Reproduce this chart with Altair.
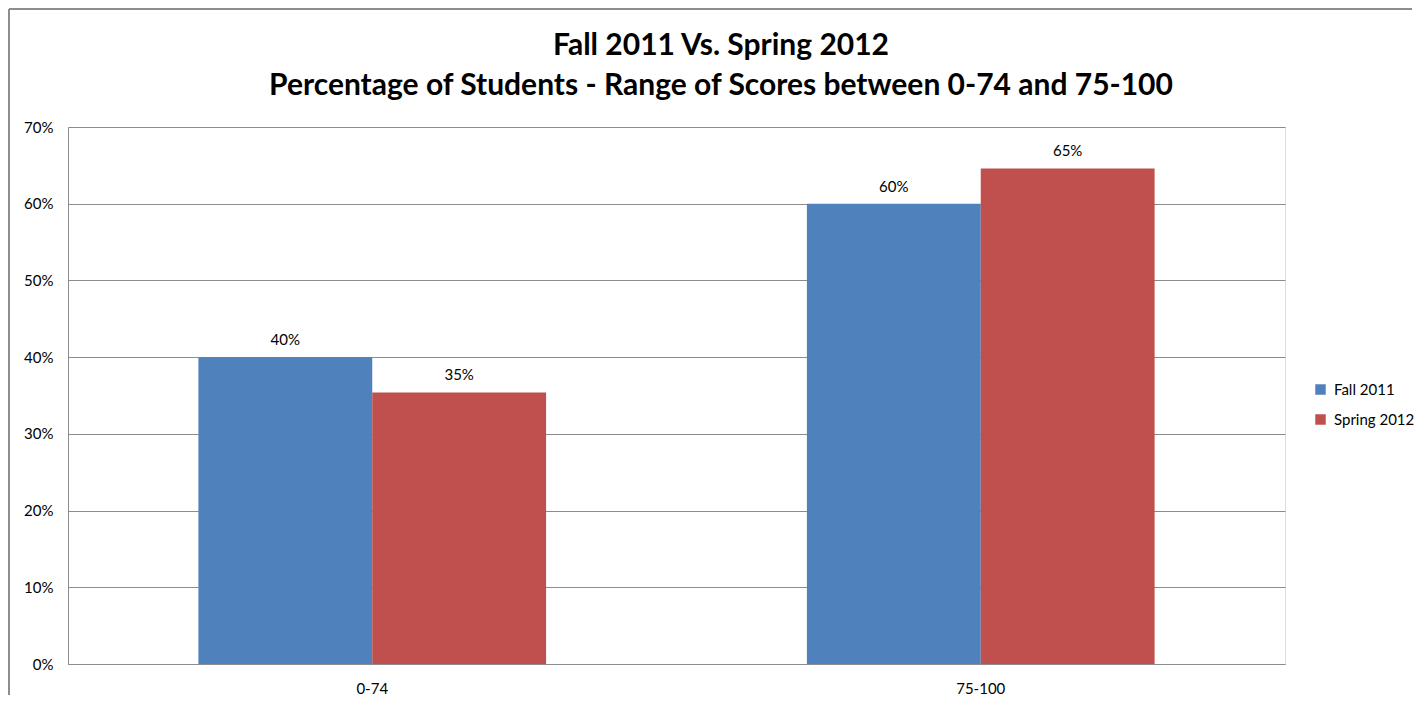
import altair as alt
import pandas as pd

categories = ["0-74", "75-100"]
series = ["Fall 2011", "Spring 2012"]
fall_2011 = [0.40, 0.60]
spring_2012 = [0.354, 0.646]
colors = ["#4F81BD", "#C0504D"]
title_lines = ["Fall 2011 Vs. Spring 2012",
               "Percentage of Students - Range of Scores between 0-74 and 75-100"]

rows = []
for i, c in enumerate(categories):
    rows.append({"range": c, "term": series[0], "value": fall_2011[i]})
    rows.append({"range": c, "term": series[1], "value": spring_2012[i]})
df = pd.DataFrame(rows)

FONT = "Lato"

x = alt.X("range:N", sort=categories, title=None,
          scale=alt.Scale(paddingInner=0.4286, paddingOuter=0.2143),
          axis=alt.Axis(labelAngle=0, labelFontSize=15, labelColor="#000000",
                        labelFont=FONT, ticks=False, labelPadding=17,
                        domainColor="#8c8c8c", grid=False))
y = alt.Y("value:Q", title=None,
          scale=alt.Scale(domain=[0, 0.7], nice=False),
          axis=alt.Axis(format=".0%", values=[0, 0.1, 0.2, 0.3, 0.4, 0.5, 0.6, 0.7],
                        labelFontSize=15, labelColor="#000000", labelFont=FONT,
                        ticks=False, labelPadding=15, domainColor="#8c8c8c",
                        gridColor="#8c8c8c", gridWidth=1))
xo = alt.XOffset("term:N", sort=series)

bars = alt.Chart(df).mark_bar(stroke=None).encode(
    x=x, y=y, xOffset=xo,
    color=alt.Color("term:N", sort=series,
                    scale=alt.Scale(domain=series, range=colors),
                    legend=alt.Legend(title=None, orient="none", legendX=1245, legendY=255,
                                      symbolType="square", symbolSize=110,
                                      symbolStrokeWidth=0,
                                      labelFontSize=15, labelFont=FONT,
                                      labelColor="#000000", rowPadding=14,
                                      labelOffset=6)),
)

labels = alt.Chart(df).mark_text(baseline="bottom", dy=-9, fontSize=15,
                                 font=FONT, color="#000000").encode(
    x=x, y=y, xOffset=xo,
    text=alt.Text("value:Q", format=".0%"),
)

frame_left = alt.Chart(df).mark_rule(stroke="#8c8c8c", strokeWidth=1.5).encode(
    x=alt.value(-59), y=alt.value(-118), y2=alt.value(568),
)
frame_top = alt.Chart(df).mark_rule(stroke="#8c8c8c", strokeWidth=1.5).encode(
    y=alt.value(-118), x=alt.value(-59), x2=alt.value(1344),
)

def title_line(txt, ypos):
    return alt.Chart(pd.DataFrame({"line": [txt]})).mark_text(
        fontSize=30, font=FONT, fontWeight="bold", color="#000000",
        align="center", baseline="middle").encode(
        x=alt.value(653), y=alt.value(ypos), text="line:N")

t1 = title_line(title_lines[0], -81)
t2 = title_line(title_lines[1], -41)

chart = alt.layer(bars, labels, frame_left, frame_top, t1, t2).properties(
    width=1217, height=537,
    autosize=alt.AutoSizeParams(type="none"),
    padding={"left": 60, "top": 119, "right": 129, "bottom": 34},
).configure_view(stroke=None).configure(background="#ffffff")

chart.save("out.html", embed_options={"renderer": "svg", "actions": False})
